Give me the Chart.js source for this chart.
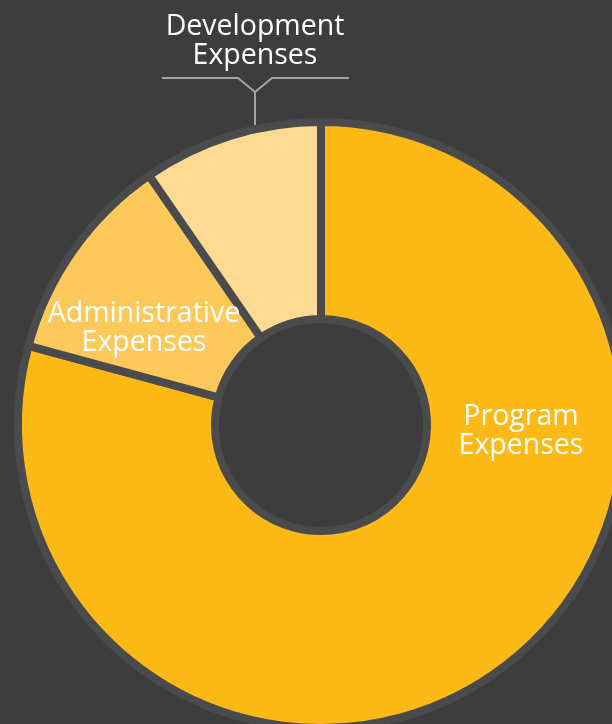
<!DOCTYPE html>
<html>
<head>
<meta charset="utf-8">
<script src="https://cdn.jsdelivr.net/npm/chart.js@4.4.1/dist/chart.umd.min.js"></script>
<style>
	html, body { margin: 0; padding: 0; background: #3d3d3d; overflow: hidden; }
	#wrap { position: absolute; left: 0; top: 0; width: 642px; height: 850px; }
</style>
</head>
<body>
<div id="wrap"><canvas id="expenses" width="642" height="850"></canvas></div>
<script>
// Expense split (share of total, %).
var categories = [ 'Program Expenses', 'Administrative Expenses', 'Development Expenses' ];
var shares     = [ 79.2, 11.2, 9.6 ];
var sliceColors = [ '#fdb915', '#fec95b', '#feda93' ];

// Label text, split into lines, with its offset from the ring centre.
var sliceLabels = [
	{ lines: [ 'Program', 'Expenses' ], dx: 200, dy: 0 },
	{ lines: [ 'Administrative', 'Expenses' ], dx: -177, dy: -103 },
	{ lines: [ 'Development', 'Expenses' ], dx: -66, dy: -390 },
];

// Draws the slice labels and the little bracket above the top slice.
var sliceLabelPlugin = {
	id: 'sliceLabels',
	afterDatasetsDraw: function ( chart ) {
		var ctx = chart.ctx;
		var arc = chart.getDatasetMeta( 0 ).data[ 0 ];
		var cx  = arc.x;
		var cy  = arc.y;

		ctx.save();
		ctx.fillStyle = '#ffffff';
		ctx.font = '28.5px "Open Sans", sans-serif';
		ctx.textAlign = 'center';
		ctx.textBaseline = 'alphabetic';
		sliceLabels.forEach( function ( lbl ) {
			lbl.lines.forEach( function ( line, i ) {
				ctx.fillText( line, cx + lbl.dx, cy + lbl.dy + i * 29 );
			} );
		} );

		// bracket for "Development Expenses"
		var bx = cx - 66;
		var by = cy - 347;
		ctx.strokeStyle = '#a3a4a6';
		ctx.lineWidth = 2;
		ctx.beginPath();
		ctx.moveTo( bx - 93, by );
		ctx.lineTo( bx - 17, by );
		ctx.lineTo( bx, by + 14 );
		ctx.lineTo( bx + 17, by );
		ctx.lineTo( bx + 94, by );
		ctx.moveTo( bx, by + 14 );
		ctx.lineTo( bx, by + 47 );
		ctx.stroke();
		ctx.restore();
	},
};

var chart = new Chart( document.getElementById( 'expenses' ), {
	type: 'doughnut',
	data: {
		labels: categories,
		datasets: [
			{
				data: shares,
				backgroundColor: sliceColors,
				borderColor: '#4a4b4d',
				borderWidth: 8,
				hoverOffset: 0,
			},
		],
	},
	plugins: [ sliceLabelPlugin ],
	options: {
		responsive: false,
		animation: false,
		radius: 303,
		cutout: '35%',
		layout: { padding: 0 },
		events: [],
		plugins: {
			legend: { display: false },
			tooltip: { enabled: false },
		},
	},
} );
</script>
</body>
</html>
